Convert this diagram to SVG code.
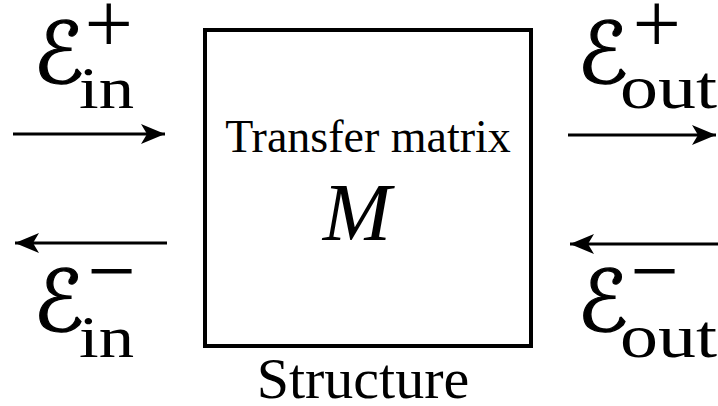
<svg xmlns="http://www.w3.org/2000/svg" width="718" height="406" viewBox="0 0 718 406">
<style>
.serif{font-family:"Liberation Serif","Times New Roman",serif;fill:#000}
.cal{font-family:"DejaVu Serif","DejaVu Sans",serif;font-style:italic;fill:#000;stroke:#000;stroke-width:1.2}
.conn{stroke:#000;stroke-width:3;fill:none}
</style>
<defs>
<marker id="ah" markerUnits="userSpaceOnUse" markerWidth="30" markerHeight="24" refX="24" refY="12" orient="auto">
<path d="M24,12 L0,2 L6,12 L0,22 Z" fill="#000"/>
</marker>
</defs>
<rect width="718" height="406" fill="#fff"/>
<g id="connectors">
<line class="conn" x1="13" y1="134" x2="165" y2="134" marker-end="url(#ah)"/>
<line class="conn" x1="167" y1="243" x2="15" y2="243" marker-end="url(#ah)"/>
<line class="conn" x1="568" y1="135" x2="716" y2="135" marker-end="url(#ah)"/>
<line class="conn" x1="718" y1="244" x2="570" y2="244" marker-end="url(#ah)"/>
</g>
<g id="structure">
<rect x="205" y="30" width="326" height="316" fill="none" stroke="#000" stroke-width="4"/>
<text class="serif" font-family="Liberation Serif, serif" x="368" y="152" font-size="46" text-anchor="middle">Transfer matrix</text>
<text class="serif" font-family="Liberation Serif, serif" x="357" y="240" font-size="82" font-style="italic" text-anchor="middle">M</text>
<text class="serif" font-family="Liberation Serif, serif" x="363" y="398" font-size="58" text-anchor="middle">Structure</text>
</g>
<g id="label-in-plus">
<text class="cal" x="33" y="83" font-size="85">ℰ</text>
<text class="serif" font-family="Liberation Serif, serif" x="84.5" y="53" font-size="86">+</text>
<text class="serif" font-family="Liberation Serif, serif" x="79" y="108" font-size="60" textLength="55" lengthAdjust="spacingAndGlyphs">in</text>
</g>
<g id="label-in-minus">
<text class="cal" x="33" y="331" font-size="85">ℰ</text>
<text class="serif" font-family="Liberation Serif, serif" x="87.5" y="299.5" font-size="86">−</text>
<text class="serif" font-family="Liberation Serif, serif" x="79" y="357" font-size="60" textLength="55" lengthAdjust="spacingAndGlyphs">in</text>
</g>
<g id="label-out-plus">
<text class="cal" x="577" y="83" font-size="85">ℰ</text>
<text class="serif" font-family="Liberation Serif, serif" x="632.5" y="53" font-size="86">+</text>
<text class="serif" font-family="Liberation Serif, serif" x="620" y="108" font-size="62" textLength="97" lengthAdjust="spacingAndGlyphs">out</text>
</g>
<g id="label-out-minus">
<text class="cal" x="577" y="331" font-size="85">ℰ</text>
<text class="serif" font-family="Liberation Serif, serif" x="630.5" y="299.5" font-size="86">−</text>
<text class="serif" font-family="Liberation Serif, serif" x="620" y="357" font-size="62" textLength="97" lengthAdjust="spacingAndGlyphs">out</text>
</g>
</svg>
